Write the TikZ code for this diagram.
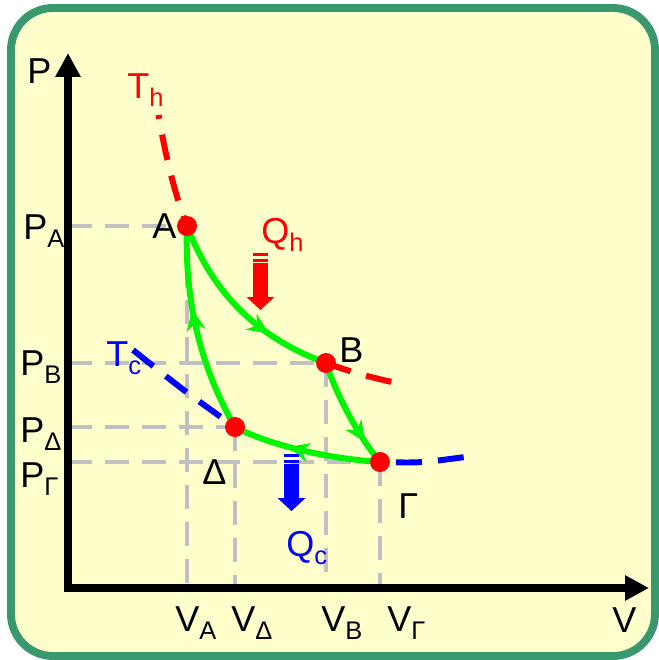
\documentclass[tikz,border=0pt]{standalone}
\usepackage{fontspec}
\setmainfont{Liberation Sans}
\usetikzlibrary{arrows.meta,decorations.markings}
\definecolor{paper}{RGB}{255,255,204}
\definecolor{frame}{RGB}{58,152,110}
\definecolor{guidegray}{RGB}{192,192,192}
\definecolor{cyclegreen}{RGB}{0,245,0}
\newcommand{\lowsub}[1]{\raisebox{-5pt}{\fontsize{14.5}{14.5}\selectfont #1}}
\tikzset{
  axis/.style={line width=4.5pt, -{Triangle[length=0.48cm,width=0.48cm]}},
  guide/.style={line width=2.8pt, draw=guidegray, dash pattern=on 0.48cm off 0.26cm},
  isotherm/.style={line width=3.4pt, dash pattern=on 0.52cm off 0.32cm},
  stroke/.style={line width=3.4pt, color=cyclegreen, postaction=decorate,
    decoration={markings, mark=at position #1 with {\arrow{Stealth[length=0.42cm,width=0.38cm]}}}},
  state/.style={circle, fill=red, inner sep=0pt, minimum size=0.4cm},
  lbl/.style={anchor=base west, inner sep=0pt, font=\fontsize{20.5}{20.5}\selectfont},
  heatflow/.pic={
    \fill (-7.5,0) rectangle (7.5,3);
    \fill (-7.5,5.5) rectangle (7.5,9);
    \fill (-7.5,10) rectangle (7.5,44);
    \fill (-14,44) -- (14,44) -- (0,57) -- cycle;
  }
}
\begin{document}
\begin{tikzpicture}[x=0.02cm, y=-0.02cm]
\useasboundingbox (0,0) rectangle (659,660);
\draw[line width=4.5pt, draw=frame, fill=paper, rounded corners=0.84cm] (11,8) rectangle (655,656);

% states of the cycle
\coordinate (O) at (68,588);
\coordinate (A) at (187,226);
\coordinate (B) at (326,363);
\coordinate (G) at (380,462);
\coordinate (D) at (235,427);

% guide lines to the axes
\draw[guide] (A -| O) -- (A);
\draw[guide] (B -| O) -- (B);
\draw[guide] (D -| O) -- (D);
\draw[guide] (G -| O) -- (G);
\draw[guide] (A) -- (A |- O);
\draw[guide] (D) -- (D |- O);
\draw[guide] (B) -- (B |- O);
\draw[guide] (G) -- (G |- O);

% axes
\draw[axis] (64,588) -- (649,588);
\draw[axis] (68,592) -- (68,53);

% isotherms
\draw[isotherm, red, dash phase=0.44cm] plot[domain=158.5:187, samples=20] (\x, {446.9 - 188.22/((\x-101.8)/100)});
\draw[isotherm, red] plot[domain=326:395, samples=20] (\x, {446.9 - 188.22/((\x-101.8)/100)});
\draw[isotherm, blue] plot[smooth] coordinates {(133,350) (185,391) (D)};
\draw[isotherm, blue, dash phase=0.52cm] (G) .. controls (420,463) .. (465,457);

% the cycle
\draw[stroke=0.68] (A) .. controls (213,293) and (256,337) .. (B);
\draw[stroke=0.78] (B) .. controls (336,393) and (356,433) .. (G);
\draw[stroke=0.62] (G) .. controls (320,458) and (265,443) .. (D);
\draw[stroke=0.6] (D) .. controls (205,375) and (184,310) .. (A);

\node[state] (dotA) at (A) {};
\node[state] (dotB) at (B) {};
\node[state] (dotG) at (G) {};
\node[state] (dotD) at (D) {};

% heat flows
\pic[red] at (260.5,253) {heatflow};
\pic[blue] at (291.5,454) {heatflow};

% labels
\node[lbl] (lblP) at (27,83) {P};
\node[lbl] (lblV) at (612,632) {V};
\node[lbl] (lblPA) at (23,239) {P\lowsub{A}};
\node[lbl] (lblPB) at (20,375) {P\lowsub{B}};
\node[lbl] (lblPD) at (20,442) {P\lowsub{Δ}};
\node[lbl] (lblPG) at (20,487) {P\lowsub{Γ}};
\node[lbl] (lblVA) at (175,631) {V\lowsub{A}};
\node[lbl] (lblVD) at (231,631) {V\lowsub{Δ}};
\node[lbl] (lblVB) at (321,631) {V\lowsub{B}};
\node[lbl] (lblVG) at (387,631) {V\lowsub{Γ}};
\node[lbl] (lblA) at (152,238) {A};
\node[lbl] (lblB) at (339,362) {B};
\node[lbl] (lblD) at (202,484) {Δ};
\node[lbl] (lblG) at (398,518) {Γ};
\node[lbl, red] (lblTh) at (127,98) {T\lowsub{h}};
\node[lbl, blue] (lblTc) at (106,366) {T\lowsub{c}};
\node[lbl, red] (lblQh) at (261,243) {Q\lowsub{h}};
\node[lbl, blue] (lblQc) at (286,556) {Q\lowsub{c}};
\end{tikzpicture}
\end{document}
